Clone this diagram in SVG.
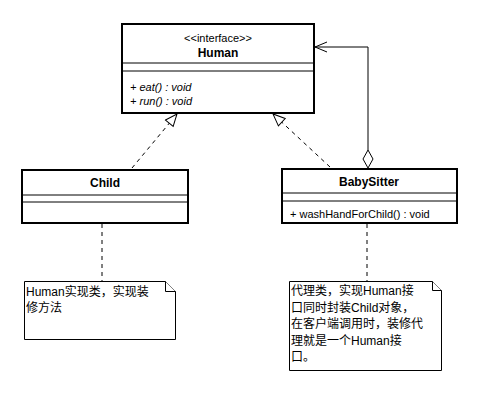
<svg xmlns="http://www.w3.org/2000/svg" width="503" height="412" viewBox="0 0 503 412">
<style>
.box{fill:#fff;stroke:#000;stroke-width:2}
.sep{stroke:#000;stroke-width:1}
.note{fill:#fff;stroke:#000;stroke-width:1}
text{font-family:"Liberation Sans","Noto Sans CJK SC",sans-serif;fill:#000}
.t{font-size:11px}
.b{font-size:12px;font-weight:bold}
.i{font-size:11px;font-style:italic}
.n{font-size:12px}
.dash{fill:none;stroke:#000;stroke-width:1;stroke-dasharray:4,4}
.solid{fill:none;stroke:#000;stroke-width:1}
</style>
<defs>
<marker id="tri" viewBox="0 0 14 12" refX="13" refY="6" markerWidth="14" markerHeight="12" markerUnits="userSpaceOnUse" orient="auto">
<path d="M1,1 L13,6 L1,11 Z" fill="#fff" stroke="#000" stroke-width="1"/>
</marker>
<marker id="open" viewBox="0 0 14 12" refX="13" refY="6" markerWidth="14" markerHeight="12" markerUnits="userSpaceOnUse" orient="auto">
<path d="M1,1 L13,6 L1,11" fill="none" stroke="#000" stroke-width="1"/>
</marker>
</defs>
<rect width="503" height="412" fill="#fff"/>
<g id="connectors">
<path class="dash" d="M132,168 L177,114" marker-end="url(#tri)"/>
<path class="dash" d="M330,167 L273,114" marker-end="url(#tri)"/>
<path class="solid" d="M368,150 L368,47 L315,47" marker-end="url(#open)"/>
<path d="M368,150 L373,159 L368,168 L363,159 Z" fill="#fff" stroke="#000" stroke-width="1"/>
<path class="dash" d="M102,224 L102,281"/>
<path class="dash" d="M367,224 L367,281"/>
</g>
<g id="human">
<rect class="box" x="122" y="24" width="192" height="89"/>
<line class="sep" x1="122" y1="63" x2="314" y2="63"/>
<line class="sep" x1="122" y1="71" x2="314" y2="71"/>
<text class="t" x="218" y="42" text-anchor="middle">&lt;&lt;interface&gt;&gt;</text>
<text class="b" x="218" y="57" text-anchor="middle">Human</text>
<text class="i" x="130" y="91">+ eat() : void</text>
<text class="i" x="130" y="105">+ run() : void</text>
</g>
<g id="child">
<rect class="box" x="22" y="170" width="166" height="53"/>
<line class="sep" x1="22" y1="195" x2="188" y2="195"/>
<line class="sep" x1="22" y1="202" x2="188" y2="202"/>
<text class="b" x="105" y="187" text-anchor="middle">Child</text>
</g>
<g id="babysitter">
<rect class="box" x="282" y="169" width="175" height="54"/>
<line class="sep" x1="282" y1="193" x2="457" y2="193"/>
<line class="sep" x1="282" y1="201" x2="457" y2="201"/>
<text class="b" x="369" y="186" text-anchor="middle">BabySitter</text>
<text class="t" x="290" y="218">+ washHandForChild() : void</text>
</g>
<g id="note-child">
<path class="note" d="M24.5,281.5 L165.5,281.5 L175.5,291.5 L175.5,339.5 L24.5,339.5 Z"/>
<path class="note" d="M165.5,281.5 L165.5,291.5 L175.5,291.5" fill="none"/>
<text class="n" x="26" y="296">Human实现类，实现装</text>
<text class="n" x="26" y="312">修方法</text>
</g>
<g id="note-babysitter">
<path class="note" d="M289.5,281.5 L432.5,281.5 L441.5,290.5 L441.5,370.5 L289.5,370.5 Z"/>
<path class="note" d="M432.5,281.5 L432.5,290.5 L441.5,290.5" fill="none"/>
<text class="n" x="291" y="295">代理类，实现Human接</text>
<text class="n" x="291" y="311.5">口同时封装Child对象，</text>
<text class="n" x="291" y="328">在客户端调用时，装修代</text>
<text class="n" x="291" y="344.5">理就是一个Human接</text>
<text class="n" x="291" y="361">口。</text>
</g>
</svg>
